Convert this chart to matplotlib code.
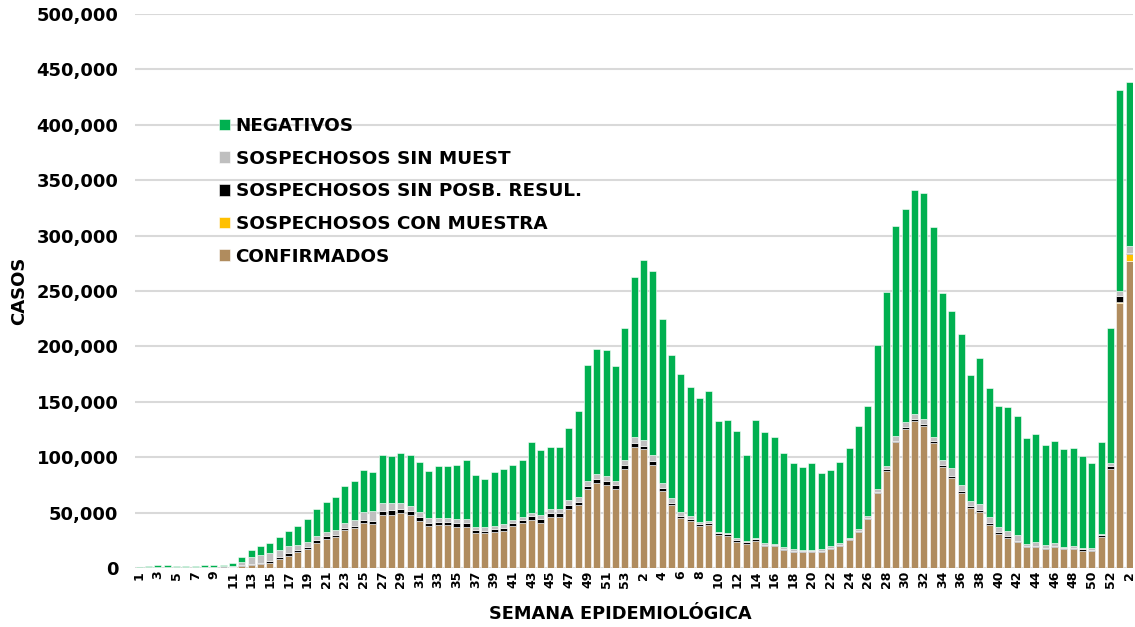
import matplotlib
matplotlib.use("Agg")
import matplotlib.pyplot as plt
import numpy as np
from matplotlib.ticker import FuncFormatter

plt.rcParams['font.family'] = ['DejaVu Sans']
plt.rcParams['font.weight'] = 'bold'

# semanas epidemiologicas: 2020 (1-53), 2021 (1-52), 2022 (1-2)
semanas = list(range(1, 54)) + list(range(1, 53)) + [1, 2]

# altura total de cada barra (miles de casos)
total = [1.2, 2.2, 3.1, 3.1, 2.2, 2.2, 2.2, 2.5, 3.0, 3.0, 4.5, 10, 16, 20, 22.5, 28, 33, 38,
         44, 53, 60, 64, 74, 78.5, 88, 87, 101.7, 101, 103.5, 102, 95.7, 87.5, 91.8, 92.4,
         93, 97.8, 84.2, 80, 86.6, 89.6, 92.6, 97.5, 113.4, 106.5, 109.2, 109.2, 126, 141.4,
         183.2, 198, 196.8, 182, 216.9,
         263, 277.7, 267.8, 225, 192.2, 174.8, 163.6, 153.4, 159.4, 132.4, 133.6, 124, 102,
         134, 123, 118.5, 103.5, 95, 91.5, 95, 86, 88, 95.9, 108, 128.6, 146.2, 201.3, 248.8,
         308.4, 324.3, 340.9, 338.2, 307.6, 248.3, 232.2, 211.2, 174.2, 189.2, 162.2, 146.2,
         145.3, 137.2, 117, 121, 111.3, 115, 107.1, 108.6, 101.4, 95, 114, 216.9,
         431.4, 438.9]

confirmados = [0, 0, 0, 0, 0, 0, 0, 0, 0.1, 0.2, 0.5, 2, 2.5, 3.5, 4.5, 8, 11, 14.5, 17, 23,
               26, 28, 34, 36, 41, 39.4, 47.5, 47.9, 49.4, 48, 42.7, 38, 38.8, 38.8, 36.7,
               36.7, 31.9, 31.9, 32.5, 33.4, 38, 40.3, 43.3, 40.3, 46, 46, 53.5, 56.5, 71, 77,
               74.6, 71.6, 89.3,
               109.5, 107.4, 93.3, 69.5, 56.5, 45, 42, 38, 38.5, 29.8, 28.9, 23.8, 22, 24.6,
               20.1, 19.5, 16.2, 14.7, 14.1, 14.1, 14.7, 17.1, 20.1, 25.2, 32.8, 44.5, 67.7,
               87.8, 113.4, 125.8, 132.9, 127.9, 112.4, 90.8, 81.5, 68, 54.4, 50.5, 38.8, 31,
               27.4, 23.2, 19.3, 18.7, 16.8, 18.7, 16.8, 17.1, 15.3, 15, 27.7, 89,
               239.5, 277]

con_muestra = [0] * 104 + [0.3, 0.8, 6]

sin_posb = [0, 0, 0, 0, 0, 0, 0, 0, 0, 0, 0, 1, 1, 1, 2, 1.5, 2.5, 2, 2.4, 2, 2.5, 2, 2, 2,
            2.4, 3.3, 4.2, 4.2, 3.6, 3.6, 3.6, 3, 3, 3, 3.6, 3.6, 2.4, 1.8, 2.4, 2.4, 2.4,
            2.7, 3.6, 3.9, 3.9, 3.9, 3.3, 3.3, 3, 3.6, 4.2, 3.6, 3.6,
            3, 2.7, 3.6, 2.4, 2.4, 1.8, 1.8, 1.8, 1.8, 1.5, 1.5, 1.5, 1.2, 1.5, 0.9, 1, 1,
            0.8, 0.8, 0.8, 0.8, 0.9, 0.9, 0.9, 0.9, 0.9, 1.2, 1.5, 1.5, 1.8, 1.5, 1.8, 2.1,
            1.8, 1.5, 1.8, 1.5, 1.8, 1.5, 1.8, 1.5, 1.5, 0.9, 1.2, 1.2, 0.9, 0.9, 1.2, 1.5,
            1.5, 1.8, 3,
            4.8, 1.5]

sin_muest = [0.2, 0.5, 0.8, 0.8, 1, 1, 1, 1.2, 1.2, 1.2, 1.5, 2, 6, 7, 7, 7, 6, 4, 4, 3.5, 4,
             4.5, 5, 5, 7, 8.5, 7, 6.3, 5.4, 4.8, 4.5, 4.5, 3.6, 3.6, 3.6, 3.6, 2.4, 3, 3,
             3.6, 3, 3.3, 3, 3.6, 3.3, 3.3, 4.5, 3.9, 4.5, 4.2, 4.2, 3.6, 4.5,
             6, 5.4, 5.1, 4.5, 4.2, 3.3, 3, 2.1, 1.8, 1.5, 1.5, 1.5, 1.2, 1.2, 1.2, 1.2, 1.5,
             1.5, 1.2, 1.2, 1.5, 1.5, 1.5, 1.2, 1.5, 1.5, 2.4, 3, 4.5, 4.5, 4.8, 4.5, 3.3,
             4.8, 6.9, 4.8, 4.8, 5.4, 5.4, 3.9, 4.8, 4.8, 1.8, 3.3, 3, 3, 1.5, 1.8, 0.9, 1.2,
             1.2, 2.4,
             5.1, 6]

# a casos
total = np.array(total) * 1000
confirmados = np.array(confirmados) * 1000
con_muestra = np.array(con_muestra) * 1000
sin_posb = np.array(sin_posb) * 1000
sin_muest = np.array(sin_muest) * 1000
negativos = total - confirmados - con_muestra - sin_posb - sin_muest

x = np.arange(len(semanas))

fig = plt.figure(figsize=(11.35, 6.27), dpi=100)
ax = fig.add_axes([135 / 1135, 59 / 627, 998 / 1135, 554 / 627])

series = [
    ("CONFIRMADOS", confirmados, "#B08C5E"),
    ("SOSPECHOSOS CON MUESTRA", con_muestra, "#FFC000"),
    ("SOSPECHOSOS SIN POSB. RESUL.", sin_posb, "#000000"),
    ("SOSPECHOSOS SIN MUEST", sin_muest, "#BFBFBF"),
    ("NEGATIVOS", negativos, "#00B050"),
]

bottom = np.zeros(len(x))
handles = []
for nombre, vals, color in series:
    b = ax.bar(x, vals, bottom=bottom, width=0.75, color=color,
               edgecolor="white", linewidth=0.4, label=nombre, zorder=3)
    handles.append(b)
    bottom += vals

ax.set_xlim(-0.45, 106.4)
ax.set_ylim(0, 500000)
ax.set_yticks(np.arange(0, 500001, 50000))
ax.yaxis.set_major_formatter(FuncFormatter(lambda v, p: f"{int(v):,}"))
ax.grid(axis="y", color="#D9D9D9", linewidth=1.5, zorder=0)
for s in ax.spines.values():
    s.set_visible(False)

ax.set_xticks(x[::2])
ax.set_xticklabels([str(s) for s in semanas[::2]], rotation=90, fontsize=9, fontweight="bold")
ax.tick_params(axis="x", length=0, pad=2)
ax.tick_params(axis="y", length=0, pad=12, labelsize=13)
for t in ax.get_yticklabels():
    t.set_fontweight("bold")

ax.set_ylabel("CASOS", fontsize=13, fontweight="bold", labelpad=6)
ax.set_xlabel("SEMANA EPIDEMIOLÓGICA", fontsize=12.8, fontweight="bold", labelpad=8)
ax.xaxis.set_label_coords(0.486, -0.066)

leg = fig.legend(handles[::-1], [s[0] for s in series][::-1],
                 loc="upper left", bbox_to_anchor=(219 / 1135, 1 - 117 / 627),
                 frameon=False, fontsize=13.2, handlelength=0.6, handleheight=0.6,
                 handletextpad=0.3, labelspacing=0.8, borderpad=0, borderaxespad=0)
for t in leg.get_texts():
    t.set_fontweight("bold")

fig.savefig("out.png", dpi=100)
